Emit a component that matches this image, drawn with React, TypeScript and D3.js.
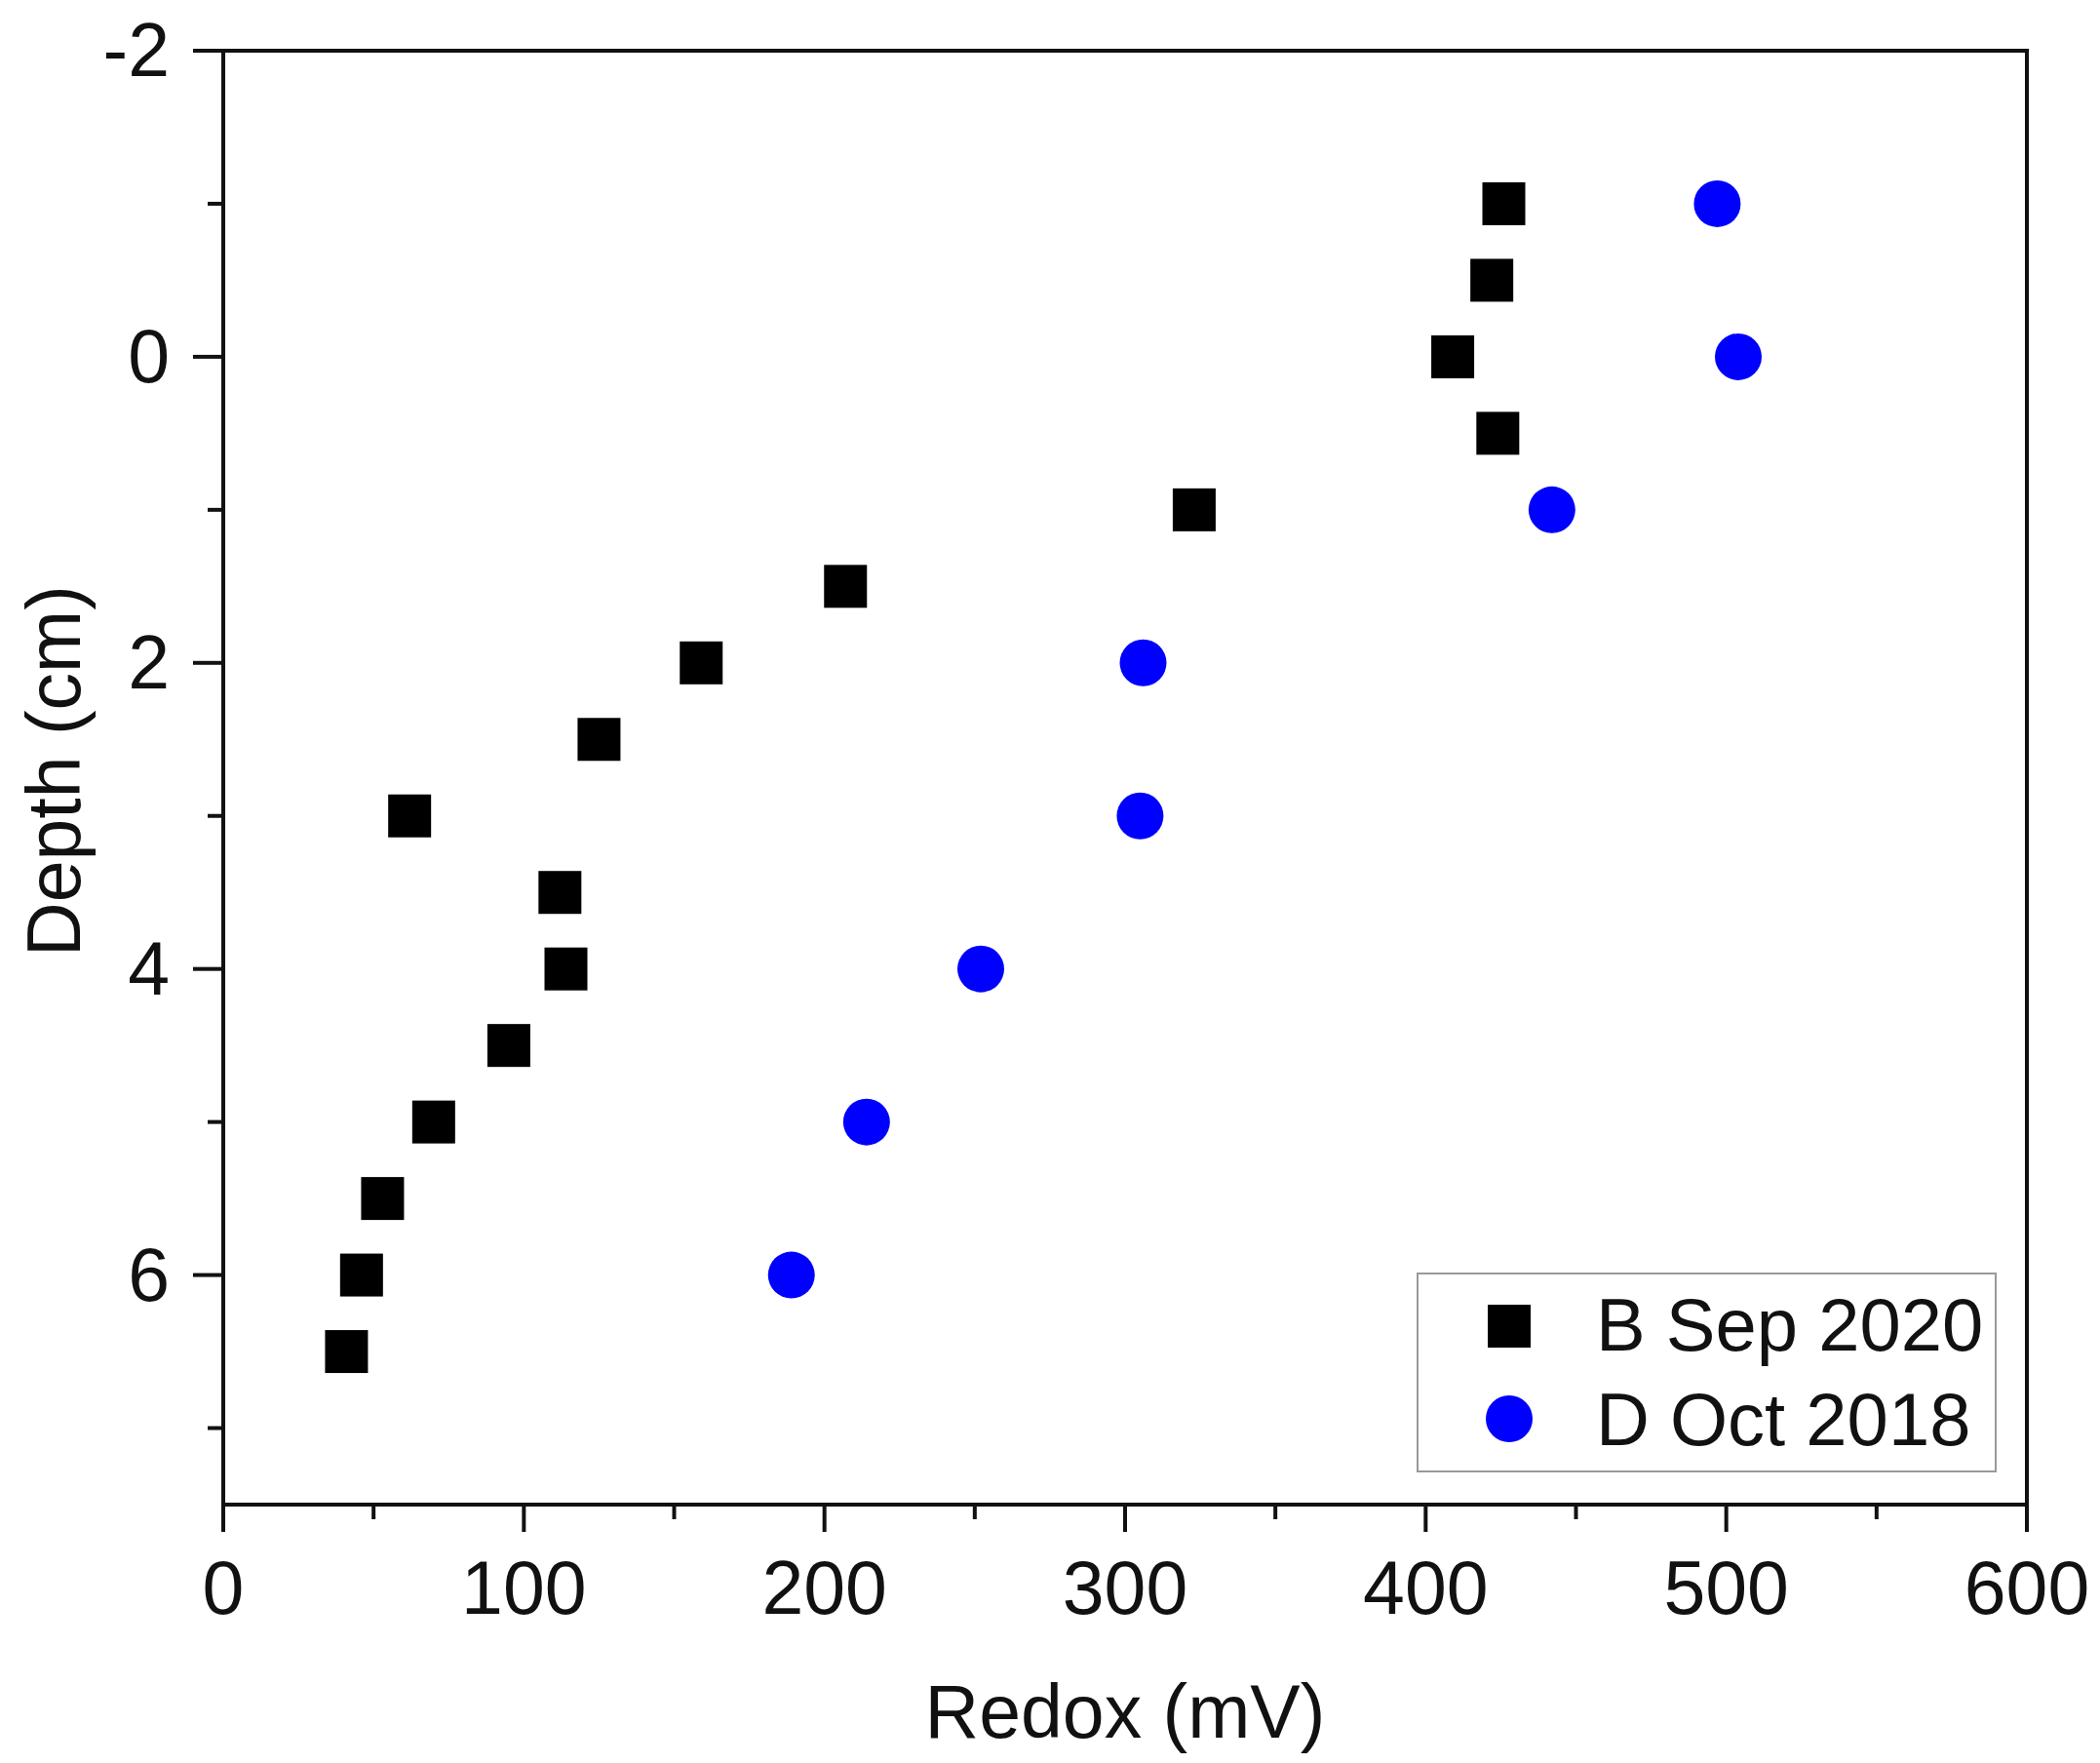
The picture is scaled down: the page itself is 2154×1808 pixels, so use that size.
import * as d3 from "d3";

// depth (cm) and redox (mV)
const depthB = [-1, -0.5, 0, 0.5, 1, 1.5, 2, 2.5, 3, 3.5, 4, 4.5, 5, 5.5, 6, 6.5];
const redoxB = [426, 422, 409, 424, 323, 207, 159, 125, 62, 112, 114, 95, 70, 53, 46, 41];

const depthD = [-1, 0, 1, 2, 3, 4, 5, 6];
const redoxD = [497, 504, 442, 306, 305, 252, 214, 189];

const xMajor = [0, 100, 200, 300, 400, 500, 600];
const xMinor = [50, 150, 250, 350, 450, 550];
const yMajor = [-2, 0, 2, 4, 6];
const yMinor = [-1, 1, 3, 5, 7];

const legendLabels = ["B Sep 2020", "D Oct 2018"];

const W = 2154;
const H = 1808;
const m = { l: 229, r: 2079, t: 52, b: 1543 };
const FONT = "'Liberation Sans', Arial, sans-serif";
const INK = "#111";
const BLUE = "#0000ff";

export default function App() {
  const x = d3.scaleLinear().domain([0, 600]).range([m.l, m.r]);
  const y = d3.scaleLinear().domain([-2, 7.5]).range([m.t, m.b]);

  const sq = 44;
  const rad = 24;

  return (
    <svg
      width={W}
      height={H}
      viewBox={`0 0 ${W} ${H}`}
      style={{ position: "absolute", left: 0, top: 0, background: "#fff" }}
    >
      <rect x={0} y={0} width={W} height={H} fill="#fff" />

      {/* frame */}
      <rect
        x={m.l}
        y={m.t}
        width={m.r - m.l}
        height={m.b - m.t}
        fill="none"
        stroke={INK}
        strokeWidth={4}
      />

      {/* x ticks */}
      {xMajor.map((v) => (
        <g key={`xM${v}`}>
          <line x1={x(v)} x2={x(v)} y1={m.b} y2={m.b + 28} stroke={INK} strokeWidth={4} />
          <text
            x={x(v)}
            y={1655}
            textAnchor="middle"
            fontSize={77}
            fontFamily={FONT}
            fill={INK}
          >
            {v}
          </text>
        </g>
      ))}
      {xMinor.map((v) => (
        <line key={`xm${v}`} x1={x(v)} x2={x(v)} y1={m.b} y2={m.b + 15} stroke={INK} strokeWidth={4} />
      ))}

      {/* y ticks */}
      {yMajor.map((v) => (
        <g key={`yM${v}`}>
          <line x1={m.l - 31} x2={m.l} y1={y(v)} y2={y(v)} stroke={INK} strokeWidth={4} />
          <text
            x={174}
            y={y(v) + 26}
            textAnchor="end"
            fontSize={77}
            fontFamily={FONT}
            fill={INK}
          >
            {v}
          </text>
        </g>
      ))}
      {yMinor.map((v) => (
        <line key={`ym${v}`} x1={m.l - 16} x2={m.l} y1={y(v)} y2={y(v)} stroke={INK} strokeWidth={4} />
      ))}

      {/* axis titles */}
      <text
        x={(m.l + m.r) / 2}
        y={1782}
        textAnchor="middle"
        fontSize={77}
        fontFamily={FONT}
        fill={INK}
      >
        Redox (mV)
      </text>
      <text
        transform={`translate(82,${(m.t + m.b) / 2 - 7}) rotate(-90)`}
        textAnchor="middle"
        fontSize={77}
        fontFamily={FONT}
        fill={INK}
      >
        Depth (cm)
      </text>

      {/* series B: squares */}
      {depthB.map((d, i) => (
        <rect
          key={`b${i}`}
          x={x(redoxB[i]) - sq / 2}
          y={y(d) - sq / 2}
          width={sq}
          height={sq}
          fill="#000"
        />
      ))}

      {/* series D: circles */}
      {depthD.map((d, i) => (
        <circle key={`d${i}`} cx={x(redoxD[i])} cy={y(d)} r={rad} fill={BLUE} />
      ))}

      {/* legend */}
      <rect x={1454} y={1306} width={593} height={203} fill="#fff" stroke="#999" strokeWidth={2} />
      <rect x={1548 - sq / 2} y={1360 - sq / 2} width={sq} height={sq} fill="#000" />
      <circle cx={1548} cy={1455} r={rad} fill={BLUE} />
      {legendLabels.map((t, i) => (
        <text
          key={t}
          x={1637}
          y={1385 + i * 97}
          fontSize={76}
          fontFamily={FONT}
          fill={INK}
        >
          {t}
        </text>
      ))}
    </svg>
  );
}
